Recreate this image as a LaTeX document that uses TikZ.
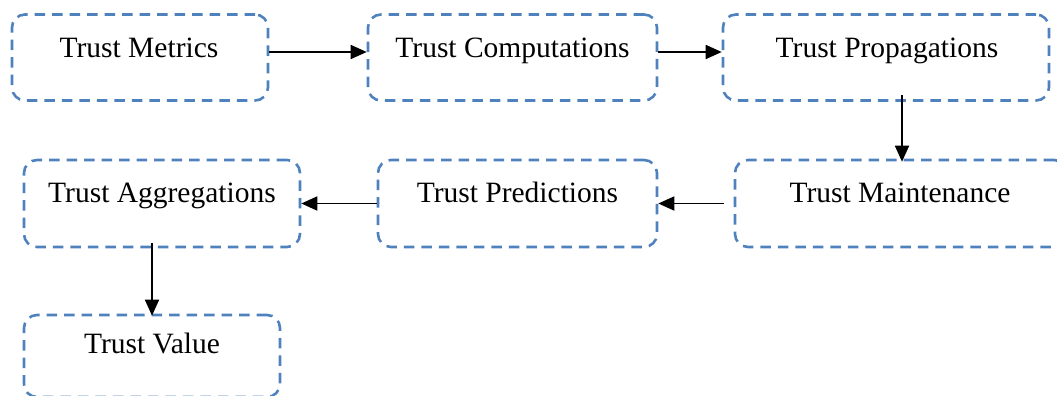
\documentclass[tikz,border=0pt]{standalone}
\usepackage{fontspec}
\setmainfont{Liberation Serif}
\usetikzlibrary{arrows.meta,calc}
\definecolor{boxblue}{RGB}{79,129,189}
\tikzset{
  stagebox/.style={draw=boxblue, line width=2.6pt, dash pattern=on 10.5pt off 7pt,
    rounded corners=13pt, minimum height=86pt, inner sep=0pt},
  stagetxt/.style={font=\fontsize{29.5}{32}\selectfont, inner sep=0pt, anchor=base},
  arr/.style={line width=1.8pt, -{Triangle[length=16pt,width=14pt]}}
}
\begin{document}
\begin{tikzpicture}[x=1pt,y=-1pt]
\useasboundingbox (0,0) rectangle (1057,396);
\begin{scope}
\clip (0,0) rectangle (1057,396);
\node[stagebox, minimum width=256pt] (m) at (140,57.5) {};
\node[stagebox, minimum width=289pt] (c) at (512.5,57.5) {};
\node[stagebox, minimum width=326pt] (p) at (886,57.5) {};
\node[stagebox, minimum width=332pt, minimum height=87pt] (mt) at (901,203.5) {};
\node[stagebox, minimum width=279pt, minimum height=87pt] (pr) at (517.5,203.5) {};
\node[stagebox, minimum width=276pt, minimum height=87pt] (ag) at (162,203.5) {};
\node[stagebox, minimum width=256pt, minimum height=82pt] (v) at (152,356) {};
\end{scope}
\node[stagetxt] (tm) at (139,57) {Trust Metrics};
\node[stagetxt] (tc) at (512.5,57) {Trust Computations};
\node[stagetxt] (tp) at (887,57) {Trust Propagations};
\node[stagetxt] (tmt) at (900,202.5) {Trust Maintenance};
\node[stagetxt] (tpr) at (517.5,202.5) {Trust Predictions};
\node[stagetxt] (tag) at (162,202.5) {Trust Aggregations};
\node[stagetxt] (tv) at (152,353) {Trust Value};
\draw[arr] ([yshift=5.5pt]m.east) -- ([yshift=5.5pt]c.west);
\draw[arr] ([yshift=5.5pt]c.east) -- ([yshift=5.5pt]p.west);
\draw[arr] ($(p.south)+(16,-7)$) -- ($(p.south |- mt.north)+(16,3)$);
\draw[arr] ([xshift=-10pt]mt.west) -- (pr.east);
\draw[arr] (pr.west) -- (ag.east);
\draw[arr] ($(v.north |- ag.south)+(0,-5)$) -- ($(v.north)+(0,2)$);
\end{tikzpicture}
\end{document}
